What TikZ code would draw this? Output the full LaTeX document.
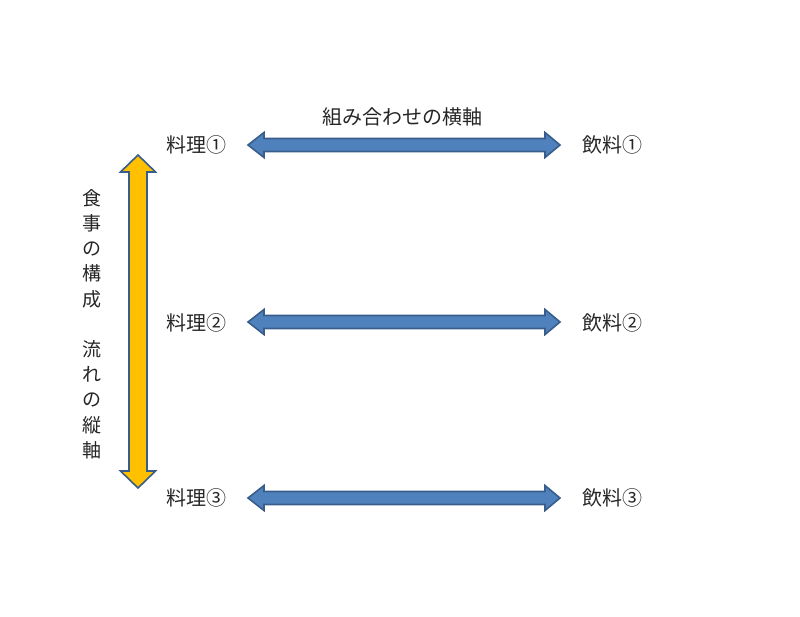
\documentclass[tikz,border=0pt]{standalone}
\usepackage{fontspec}
\setmainfont{Noto Sans CJK JP}
\definecolor{arrblue}{HTML}{4F81BD}
\definecolor{arredge}{HTML}{385D8A}
\definecolor{arrgold}{HTML}{FFC000}
\definecolor{txt}{HTML}{262626}
\begin{document}
\begin{tikzpicture}[x=1pt,y=-1pt,
  lbl/.style={text=txt,font=\fontsize{20}{20}\selectfont,inner sep=0pt},
  harrow/.style={fill=arrblue,draw=arredge,line width=1.6pt,line join=miter},
  varrow/.style={fill=arrgold,draw=arredge,line width=1.6pt,line join=miter}]
\useasboundingbox (0,0) rectangle (800,616);
% labels
\node[lbl] (f1) at (196,145) {料理①};
\node[lbl] (f2) at (196,323) {料理②};
\node[lbl] (f3) at (196,498) {料理③};
\node[lbl] (d1) at (612,145) {飲料①};
\node[lbl] (d2) at (612,323) {飲料②};
\node[lbl] (d3) at (612,498) {飲料③};
\node[lbl] (hx) at (402,117) {組み合わせの横軸};
\node[text=txt,font=\fontsize{19}{25.2}\selectfont,align=center,inner sep=0pt] (vx) at (92,324)
  {食\\事\\の\\構\\成\\\mbox{}\\流\\れ\\の\\縦\\軸};
% horizontal double arrows
\foreach \y in {145,322,498}{
  \draw[harrow] (248,\y) -- (264,\y-12.5) -- (264,\y-6.5) -- (545,\y-6.5) -- (545,\y-12.5)
    -- (560,\y) -- (545,\y+12.5) -- (545,\y+6.5) -- (264,\y+6.5) -- (264,\y+12.5) -- cycle;
}
% vertical double arrow
\draw[varrow] (138,155) -- (155.5,172) -- (147,172) -- (147,471) -- (155.5,471)
  -- (138,488) -- (120.5,471) -- (129,471) -- (129,172) -- (120.5,172) -- cycle;
\end{tikzpicture}
\end{document}
